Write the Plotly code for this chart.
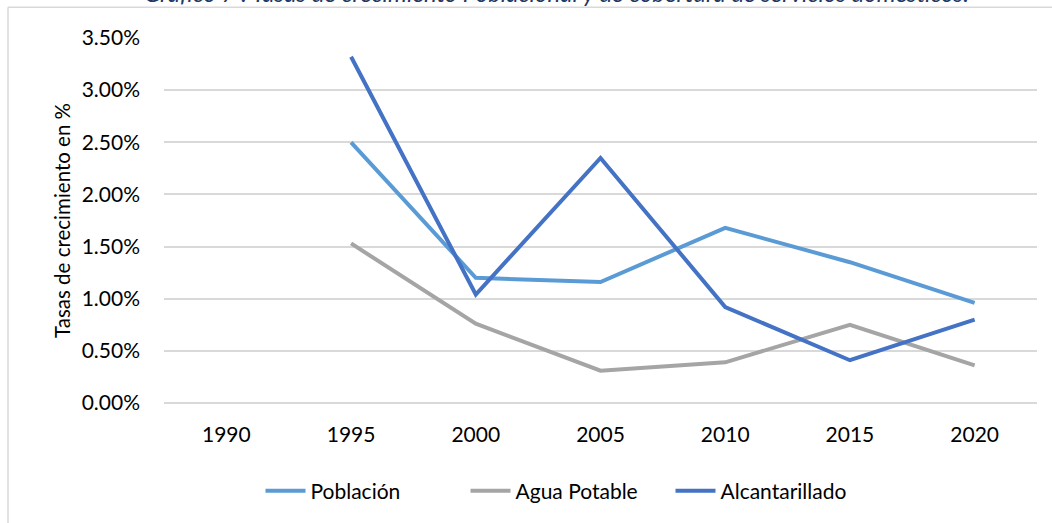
import plotly.graph_objects as go

years = ["1990", "1995", "2000", "2005", "2010", "2015", "2020"]
poblacion = [None, 0.0250, 0.0120, 0.0116, 0.0168, 0.0135, 0.0096]
agua_potable = [None, 0.0153, 0.0076, 0.0031, 0.0039, 0.0075, 0.0036]
alcantarillado = [None, 0.0332, 0.0104, 0.0235, 0.0092, 0.0041, 0.0080]

FONT = "Lato, Calibri, Arial, sans-serif"
GRID = "#d9d9d9"

series = [
    ("Población", poblacion, "#5b9bd5"),
    ("Agua Potable", agua_potable, "#a5a5a5"),
    ("Alcantarillado", alcantarillado, "#4472c4"),
]

fig = go.Figure()
for name, vals, color in series:
    fig.add_trace(go.Scatter(
        x=years, y=vals, name=name, mode="lines",
        line=dict(color=color, width=4),
    ))

# plot area spans x 164..1037 and y 38..407 px
L, T, W, H = 164, 38, 873, 369

fig.update_layout(
    width=1052, height=523,
    margin=dict(l=L, r=1052 - L - W, t=T, b=523 - T - H),
    paper_bgcolor="white", plot_bgcolor="white",
    font=dict(family=FONT, size=21, color="#000000"),
    showlegend=True,
    legend=dict(
        orientation="h", x=(568 - L) / W, xanchor="center",
        y=(T + H - 496) / H, yanchor="middle",
        font=dict(size=21), itemwidth=40,
        entrywidth=150, entrywidthmode="pixels",
    ),
    xaxis=dict(
        type="category", range=[-0.5, 6.5], showgrid=False,
        showline=False, ticks="", ticklabelstandoff=17,
        tickfont=dict(size=21),
    ),
    yaxis=dict(
        range=[0, 0.035], dtick=0.005, tickformat=".2%",
        showgrid=True, gridcolor=GRID, gridwidth=1.5,
        zeroline=True, zerolinecolor=GRID, zerolinewidth=1.5,
        showline=False, ticks="", ticklabelstandoff=23,
        tickfont=dict(size=21),
        title=dict(text="Tasas de crecimiento en %", font=dict(size=20.5), standoff=5),
    ),
    annotations=[dict(
        text="Gráfico 7 : Tasas de crecimiento Poblacional y de cobertura de servicios domésticos.",
        xref="paper", yref="paper",
        x=(556 - L) / W, xanchor="center",
        y=(T + H + 8) / H, yanchor="middle",
        showarrow=False,
        font=dict(family=FONT, size=24, color="#1f3864", style="italic"),
    )],
    shapes=[
        dict(type="line", xref="paper", yref="paper",
             x0=(8 - L) / W, x1=(1060 - L) / W,
             y0=(T + H - 7) / H, y1=(T + H - 7) / H,
             line=dict(color=GRID, width=1.5)),
        dict(type="line", xref="paper", yref="paper",
             x0=(8 - L) / W, x1=(8 - L) / W,
             y0=(T + H - 7) / H, y1=(T + H - 530) / H,
             line=dict(color=GRID, width=1.5)),
    ],
)

# drop the browser's default body margin so the figure sits at (0, 0)
fig.write_html(
    "out.html",
    config={"displayModeBar": False},
    post_script="document.body.style.margin='0';",
)
